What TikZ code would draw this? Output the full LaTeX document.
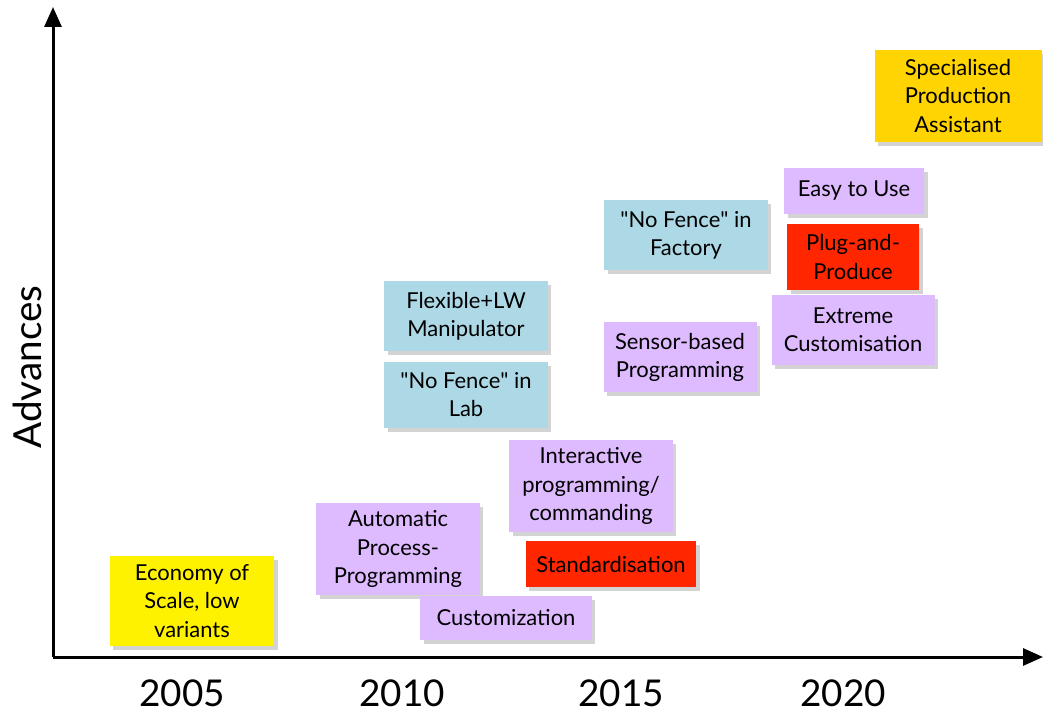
\documentclass[tikz,border=0pt]{standalone}
\usepackage{fontspec}
\setmainfont{Lato}
\usetikzlibrary{arrows.meta,shadows}
\definecolor{lilac}{RGB}{222,186,255}
\definecolor{paleblue}{RGB}{173,216,230}
\definecolor{signred}{RGB}{255,38,0}
\definecolor{gold}{RGB}{255,212,0}
\tikzset{
	card/.style={drop shadow={shadow xshift=0.07cm,shadow yshift=-0.08cm,opacity=0.35},
		align=center,inner sep=0pt,font=\fontsize{12.5}{16}\selectfont},
	axis/.style={line width=0.06cm,-{Triangle[width=0.34cm,length=0.4cm]}},
	year/.style={font=\fontsize{21}{24}\selectfont}
}
\newcommand{\dq}{\textquotedbl}

\begin{document}
\begin{tikzpicture}[x=0.02cm,y=-0.02cm]
			%%%%% START %%%%%
			\useasboundingbox (0,0) rectangle (1043,715);
			
			\coordinate (origin) at (53,657);
			\coordinate (ytop) at (53,7);
			\coordinate (xend) at (1043,657);
			\draw[axis] (origin) -- (ytop);
			\draw[axis] (origin) -- (xend);
			
			\node[rotate=90,font=\fontsize{22}{24}\selectfont] (adv) at (27,367) {Advances};
			\node[year] (y05) at (182,693) {2005};
			\node[year] (y10) at (402,693) {2010};
			\node[year] (y15) at (621,693) {2015};
			\node[year] (y20) at (843,693) {2020};
			
			\node[card,fill=yellow,minimum width=3.3cm,minimum height=1.82cm] (econ) at (192,601) {Economy of\\Scale, low\\variants};
			\node[card,fill=lilac,minimum width=3.28cm,minimum height=1.86cm] (auto) at (398,549) {Automatic\\Process-\\Programming};
			\node[card,fill=lilac,minimum width=3.44cm,minimum height=0.9cm] (custz) at (506,618) {Customization};
			\node[card,fill=lilac,minimum width=3.28cm,minimum height=1.84cm] (inter) at (591,486) {Interactive\\programming/\\commanding};
			\node[card,fill=signred,minimum width=3.42cm,minimum height=0.92cm] (stand) at (611,564) {Standardisation};
			
			\node[card,fill=paleblue,minimum width=3.28cm,minimum height=1.4cm] (flex) at (466,316) {Flexible+LW\\Manipulator};
			\node[card,fill=paleblue,minimum width=3.28cm,minimum height=1.32cm] (lab) at (466,395) {\dq No Fence\dq{} in\\Lab};
			\node[card,fill=paleblue,minimum width=3.28cm,minimum height=1.4cm] (fact) at (686,235) {\dq No Fence\dq{} in\\Factory};
			\node[card,fill=lilac,minimum width=3.06cm,minimum height=1.4cm] (sensor) at (680,357) {Sensor-based\\Programming};
			
			\node[card,fill=lilac,minimum width=2.8cm,minimum height=0.92cm] (easy) at (854,191) {Easy to Use};
			\node[card,fill=signred,minimum width=2.64cm,minimum height=1.32cm] (plug) at (853,257) {Plug-and-\\Produce};
			\node[card,fill=lilac,minimum width=3.26cm,minimum height=1.42cm] (extr) at (853,330) {Extreme\\Customisation};
			\node[card,fill=gold,minimum width=3.34cm,minimum height=1.86cm] (spec) at (958,96) {Specialised\\Production\\Assistant};
			%%%%% END %%%%%
\end{tikzpicture}
\end{document}
